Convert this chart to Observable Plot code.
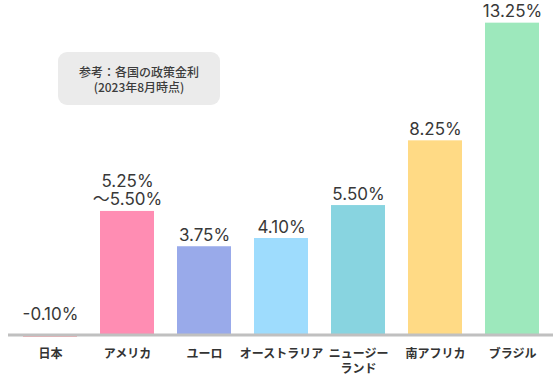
<!DOCTYPE html>
<html><head><meta charset="utf-8">
<script src="https://cdn.jsdelivr.net/npm/d3@7"></script>
<script src="https://cdn.jsdelivr.net/npm/@observablehq/plot@0.6"></script>
<style>
html,body{margin:0;padding:0;background:#fff;}
#wrap{position:relative;width:560px;height:374px;font-family:Inter,"Noto Sans CJK JP",sans-serif;}
#note{position:absolute;left:58px;top:52px;width:162px;height:53px;background:#ebebeb;border-radius:9px;
 color:#3c3c3c;font-size:12px;line-height:15px;text-align:center;display:flex;flex-direction:column;justify-content:center;font-family:"Noto Sans CJK JP",sans-serif;font-weight:500;}
</style></head><body>
<div id="wrap"><div id="note"><div>参考：各国の政策金利</div><div>(2023年8月時点)</div></div></div>
<script>
const countries = ["日本","アメリカ","ユーロ","オーストラリア","ニュージーランド","南アフリカ","ブラジル"];
const axisLabels = ["日本","アメリカ","ユーロ","オーストラリア","ニュージー\nランド","南アフリカ","ブラジル"];
const rates = [-0.10, 5.25, 3.75, 4.10, 5.50, 8.25, 13.25];
const valueLabels = ["-0.10%","5.25%\n～5.50%","3.75%","4.10%","5.50%","8.25%","13.25%"];
const colors = ["#fb9ea3","#ff8db3","#99aaea","#9edcfd","#88d4e0","#ffda85","#9de8bc"];

const data = countries.map((c,i)=>({country:c, axis:axisLabels[i], value:rates[i], label:valueLabels[i], color:colors[i]}));
const pos = data.filter(d=>d.value>=0), neg = data.filter(d=>d.value<0);

const chart = Plot.plot({
  width:560, height:374,
  marginLeft:8, marginRight:7, marginTop:5, marginBottom:39.5,
  style:{fontFamily:'Inter,"Noto Sans CJK JP",sans-serif', background:"transparent"},
  x:{domain:countries, paddingInner:0.3, paddingOuter:0.15, axis:null},
  y:{domain:[0,14], axis:null},
  marks:[
    Plot.barY(data,{x:"country", y:"value", fill:"color"}),
    Plot.ruleY([0],{stroke:"#c0c0c0", strokeWidth:3}),
    Plot.text(pos,{x:"country", y:"value", text:"label", lineAnchor:"bottom", dy:-6, fontSize:17, lineHeight:1.08, fill:"#383838"}),
    Plot.text(neg,{x:"country", y:0, text:"label", lineAnchor:"bottom", dy:-15, fontSize:17, fill:"#383838"}),
    Plot.text(data,{x:"country", text:"axis", frameAnchor:"bottom", lineAnchor:"top", dy:12, fontSize:12, fontWeight:"bold", lineHeight:1.25, fill:"#333", fontFamily:'"Noto Sans CJK JP",sans-serif'})
  ]
});
chart.style.position="absolute"; chart.style.left="0"; chart.style.top="0";
const wrap=document.getElementById("wrap");
wrap.insertBefore(chart, wrap.firstChild);
</script></body></html>
